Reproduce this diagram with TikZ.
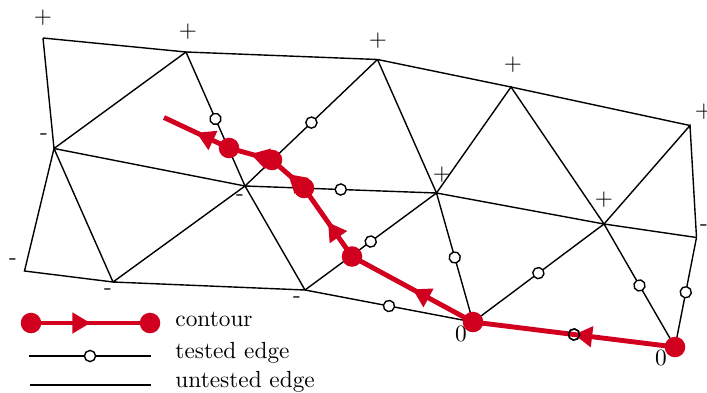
\documentclass[tikz,border=0pt]{standalone}
\usetikzlibrary{arrows.meta,decorations.markings}
\definecolor{cred}{RGB}{208,0,30}
\begin{document}
\begin{tikzpicture}[x=0.429pt,y=-0.429pt,
  edge/.style={line width=0.6pt},
  tested/.style={edge, postaction={decorate},
    decoration={markings, mark=at position 0.5 with {\draw[line width=0.6pt,fill=white] (0,0) circle (2.4pt);}}},
  ringonly/.style={draw=none, postaction={decorate},
    decoration={markings, mark=at position 0.5 with {\draw[line width=0.6pt] (0,0) circle (2.4pt);}}},
  contourseg/.style={draw=cred, line width=2.1pt, postaction={decorate},
    decoration={markings, mark=at position 0.5 with {\arrow[cred]{Triangle[length=7.8pt,width=8.6pt]}}}},
  cdot/.style={fill=cred},
  lab/.style={inner sep=0pt, font=\normalsize},
  legtext/.style={anchor=base west, inner sep=0pt}
]
\useasboundingbox (0,0) rectangle (707,392);
% vertices
\coordinate (A) at (43,38);
\coordinate (B) at (186,52);
\coordinate (C) at (377.5,59.5);
\coordinate (D) at (511,87);
\coordinate (E) at (690,125.5);
\coordinate (F) at (54,148.5);
\coordinate (G) at (245,186);
\coordinate (H) at (436.5,193);
\coordinate (I) at (604,224);
\coordinate (J) at (696.5,237.5);
\coordinate (K) at (24.5,271);
\coordinate (L) at (113,282);
\coordinate (M) at (305,290);
\coordinate (N) at (473,322);
\coordinate (O) at (675,347);
% labels
\node[lab] (lA) at (43,18) {+};
\node[lab] (lB) at (188,32) {+};
\node[lab] (lC) at (378,41) {+};
\node[lab] (lD) at (513,65) {+};
\node[lab] (lE) at (704,112) {+};
\node[lab] (lF) at (44,137) {-};
\node[lab] (lG) at (240,198) {-};
\node[lab] (lH) at (442,175) {+};
\node[lab] (lI) at (604,200) {+};
\node[lab] (lJ) at (704,228) {-};
\node[lab] (lK) at (13,262) {-};
\node[lab] (lL) at (108,292) {-};
\node[lab] (lM) at (297,300) {-};
\node[lab] (lN) at (461,334) {0};
\node[lab] (lO) at (661,358) {0};
% untested edges
\draw[edge] (A) -- (B) -- (C) -- (D) -- (E);
\draw[edge] (A) -- (F) -- (B);
\draw[edge] (F) -- (G);
\draw[edge] (C) -- (H) -- (D) -- (I) -- (E) -- (J);
\draw[edge] (H) -- (I) -- (J);
\draw[edge] (F) -- (K) -- (L) -- (F);
\draw[edge] (L) -- (G) -- (M) -- (L);
% tested edges
\draw[tested] (B) -- (G);
\draw[tested] (C) -- (G);
\draw[tested] (G) -- (H);
\draw[tested] (M) -- (H);
\draw[tested] (H) -- (N);
\draw[tested] (M) -- (N);
\draw[tested] (N) -- (I);
\draw[tested] (I) -- (O);
\draw[tested] (J) -- (O);
\draw[tested] (N) -- (O);
% contour
\coordinate (c3) at (352,256.5);
\coordinate (c4) at (304,188);
\coordinate (c5) at (272,160);
\coordinate (c6) at (229,148);
\coordinate (cend) at (164,117.5);
\draw[contourseg] (O) -- (N);
\draw[contourseg] (N) -- (c3);
\draw[contourseg] (c3) -- (c4);
\draw[contourseg] (c4) -- (c5);
\draw[contourseg] (c5) -- (c6);
\draw[contourseg] (c6) -- (cend);
\path[ringonly] (N) -- (O);
\foreach \p in {O,N,c3,c4,c5,c6} \fill[cdot] (\p) circle (4.4pt);
% legend
\coordinate (l1a) at (31,323);
\coordinate (l1b) at (150,323);
\draw[contourseg] (l1a) -- (l1b);
\fill[cdot] (l1a) circle (4.4pt);
\fill[cdot] (l1b) circle (4.4pt);
\coordinate (l2a) at (29,356);
\coordinate (l2b) at (151,356);
\draw[tested] (l2a) -- (l2b);
\coordinate (l3a) at (30,385);
\coordinate (l3b) at (151,385);
\draw[edge] (l3a) -- (l3b);
\node[legtext] (t1) at (175,326) {contour};
\node[legtext] (t2) at (175,358) {tested edge};
\node[legtext] (t3) at (175,387) {untested edge};
\end{tikzpicture}
\end{document}
